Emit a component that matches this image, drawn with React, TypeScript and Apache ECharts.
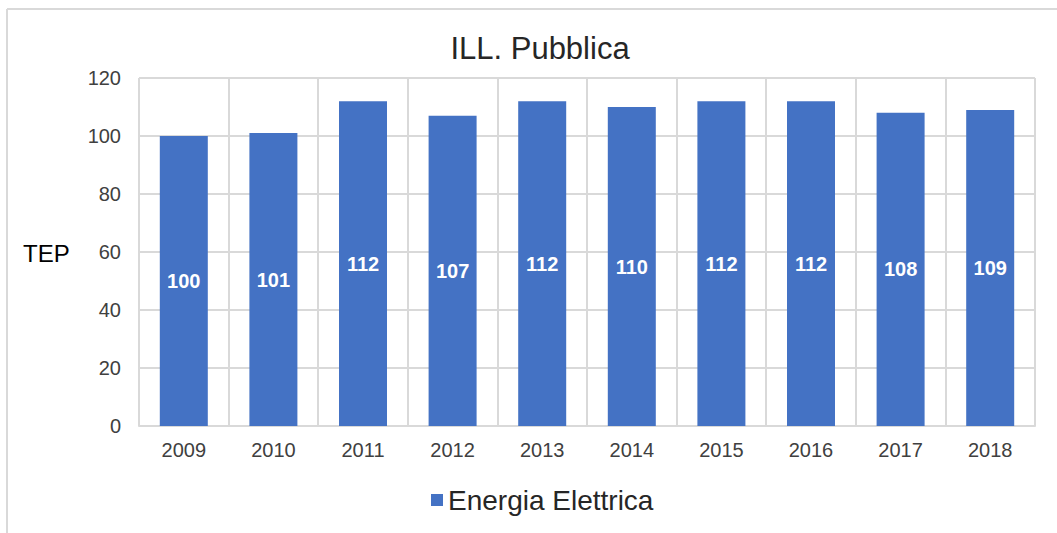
import React, { useEffect, useRef } from "react";
import * as echarts from "echarts";

const categories = ["2009", "2010", "2011", "2012", "2013", "2014", "2015", "2016", "2017", "2018"];
const energiaElettrica = [100, 101, 112, 107, 112, 110, 112, 112, 108, 109];
const titleText = "ILL. Pubblica";
const yAxisName = "TEP";
const seriesName = "Energia Elettrica";

const FONT = "'Liberation Sans', Arial, sans-serif";

export default function App() {
  const ref = useRef<HTMLDivElement>(null);
  useEffect(() => {
    if (!ref.current) return;
    const chart = echarts.init(ref.current, undefined, { renderer: "svg" });
    chart.setOption({
      animation: false,
      backgroundColor: "#ffffff",
      textStyle: { fontFamily: FONT },
      title: {
        text: titleText,
        left: 535,
        textAlign: "center",
        top: 28,
        textStyle: { fontFamily: FONT, fontSize: 31, fontWeight: "normal", color: "#262626" },
      },
      legend: {
        data: [seriesName],
        left: 426,
        top: 481,
        itemWidth: 12,
        itemHeight: 12,
        itemGap: 8,
        icon: "rect",
        textStyle: { fontFamily: FONT, fontSize: 28, color: "#262626" },
      },
      grid: { left: 139, right: 22, top: 78, bottom: 107, containLabel: false },
      xAxis: {
        type: "category",
        data: categories,
        boundaryGap: true,
        axisLine: { show: true, lineStyle: { color: "#d9d9d9", width: 2 } },
        axisTick: { show: false },
        axisLabel: { fontFamily: FONT, fontSize: 20, color: "#404040", margin: 14 },
        splitLine: { show: true, lineStyle: { color: "#d9d9d9", width: 2 } },
      },
      yAxis: {
        type: "value",
        min: 0,
        max: 120,
        interval: 20,
        axisLine: { show: false },
        axisTick: { show: false },
        axisLabel: { fontFamily: FONT, fontSize: 20, color: "#404040", margin: 18 },
        splitLine: { show: true, lineStyle: { color: "#d9d9d9", width: 2 } },
      },
      series: [
        {
          name: seriesName,
          type: "bar",
          data: energiaElettrica,
          barWidth: 48,
          itemStyle: { color: "#4472C4" },
          label: {
            show: true,
            position: "inside",
            color: "#ffffff",
            fontFamily: FONT,
            fontWeight: "bold",
            fontSize: 20,
          },
        },
      ],
      graphic: [
        {
          type: "line",
          shape: { x1: 7, y1: 9, x2: 1057, y2: 9 },
          style: { stroke: "#d9d9d9", lineWidth: 2 },
        },
        {
          type: "line",
          shape: { x1: 7, y1: 9, x2: 7, y2: 533 },
          style: { stroke: "#d9d9d9", lineWidth: 2 },
        },
        {
          type: "text",
          x: 23,
          y: 253,
          style: {
            text: yAxisName,
            fontFamily: FONT,
            fontSize: 24,
            fill: "#000000",
            verticalAlign: "middle",
            align: "left",
          },
        },
      ],
    });
    return () => chart.dispose();
  }, []);
  return (
    <div
      ref={ref}
      style={{ position: "absolute", left: 0, top: 0, width: 1057, height: 533 }}
    />
  );
}
